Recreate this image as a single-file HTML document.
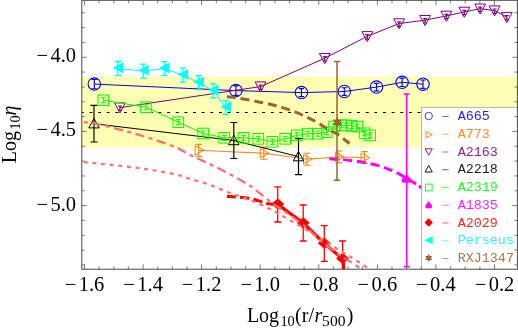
<!DOCTYPE html>
<html><head><meta charset="utf-8"><title>chart</title>
<style>html,body{margin:0;padding:0;background:#fff;}body{width:518px;height:331px;overflow:hidden;position:relative;font-family:"Liberation Sans",sans-serif;}</style>
</head><body>
<svg width="518" height="331" viewBox="0 0 518 331" style="position:absolute;left:0;top:0;will-change:transform">
<defs><clipPath id="c"><rect x="81.8" y="0" width="435.59999999999997" height="269.2"/></clipPath></defs>
<rect width="518" height="331" fill="#fff"/>
<g clip-path="url(#c)">
<rect x="81.8" y="76.7" width="435.59999999999997" height="70.89999999999999" fill="#ffffb3"/>
<line x1="81.8" y1="112.5" x2="517.4" y2="112.5" stroke="#000" stroke-width="1.1" stroke-dasharray="2.9 5.733" stroke-dashoffset="0.95"/>
<polyline points="94.3,84.1 235.9,90.6 301.4,92.6 344.3,91.5 376.5,87.1 402.1,82.3 423.0,84.2" stroke="#0000ff" stroke-width="1" fill="none"/>
<path d="M94.3 79.5V88.7M91.7 79.5H96.9M91.7 88.7H96.9" stroke="#0000ff" stroke-width="1.15" fill="none"/>
<circle cx="94.3" cy="84.1" r="6.2" stroke="#0000ff" stroke-width="1.1" fill="none"/>
<path d="M235.9 85.9V95.3M233.3 85.9H238.5M233.3 95.3H238.5" stroke="#0000ff" stroke-width="1.15" fill="none"/>
<circle cx="235.9" cy="90.6" r="6.2" stroke="#0000ff" stroke-width="1.1" fill="none"/>
<path d="M301.4 88.6V96.6M298.8 88.6H304.0M298.8 96.6H304.0" stroke="#0000ff" stroke-width="1.15" fill="none"/>
<circle cx="301.4" cy="92.6" r="6.2" stroke="#0000ff" stroke-width="1.1" fill="none"/>
<path d="M344.3 87.7V95.3M341.7 87.7H346.9M341.7 95.3H346.9" stroke="#0000ff" stroke-width="1.15" fill="none"/>
<circle cx="344.3" cy="91.5" r="6.2" stroke="#0000ff" stroke-width="1.1" fill="none"/>
<path d="M376.5 83.3V90.9M373.9 83.3H379.1M373.9 90.9H379.1" stroke="#0000ff" stroke-width="1.15" fill="none"/>
<circle cx="376.5" cy="87.1" r="6.2" stroke="#0000ff" stroke-width="1.1" fill="none"/>
<path d="M402.1 78.1V86.5M399.5 78.1H404.7M399.5 86.5H404.7" stroke="#0000ff" stroke-width="1.15" fill="none"/>
<circle cx="402.1" cy="82.3" r="6.2" stroke="#0000ff" stroke-width="1.1" fill="none"/>
<path d="M423.0 80.0V88.4M420.4 80.0H425.6M420.4 88.4H425.6" stroke="#0000ff" stroke-width="1.15" fill="none"/>
<circle cx="423.0" cy="84.2" r="6.2" stroke="#0000ff" stroke-width="1.1" fill="none"/>
<polyline points="198.7,150.3 263.8,153.2 307.0,159.2 339.0,156.9 364.6,157.6" stroke="#ff8000" stroke-width="1" fill="none"/>
<path d="M198.7 144.3V156.3M195.2 144.3H202.2M195.2 156.3H202.2" stroke="#ff8000" stroke-width="1" fill="none"/>
<path d="M195.1 145.7L204.0 150.3L195.1 154.9Z" stroke="#ff8000" stroke-width="1" fill="none"/>
<path d="M263.8 147.2V159.2M260.3 147.2H267.3M260.3 159.2H267.3" stroke="#ff8000" stroke-width="1" fill="none"/>
<path d="M260.2 148.6L269.1 153.2L260.2 157.8Z" stroke="#ff8000" stroke-width="1" fill="none"/>
<path d="M307.0 153.2V165.2M303.5 153.2H310.5M303.5 165.2H310.5" stroke="#ff8000" stroke-width="1" fill="none"/>
<path d="M303.4 154.6L312.3 159.2L303.4 163.8Z" stroke="#ff8000" stroke-width="1" fill="none"/>
<path d="M339.0 150.9V162.9M335.5 150.9H342.5M335.5 162.9H342.5" stroke="#ff8000" stroke-width="1" fill="none"/>
<path d="M335.4 152.3L344.3 156.9L335.4 161.5Z" stroke="#ff8000" stroke-width="1" fill="none"/>
<path d="M364.6 151.6V163.6M361.1 151.6H368.1M361.1 163.6H368.1" stroke="#ff8000" stroke-width="1" fill="none"/>
<path d="M361.0 153.0L369.9 157.6L361.0 162.2Z" stroke="#ff8000" stroke-width="1" fill="none"/>
<polyline points="119.9,107.6 260.5,86.6 324.8,58.2 367.3,36.3 399.1,23.5 425.1,20.2 446.4,15.9 464.3,11.9 480.2,8.7 494.6,10.6 506.8,17.1" stroke="#800080" stroke-width="1" fill="none"/>
<path d="M119.9 106.0V110.4M117.9 106.0H121.9M117.9 110.4H121.9" stroke="#800080" stroke-width="1.2" fill="none"/>
<path d="M114.5 102.9H125.4L119.9 113.0Z" stroke="#800080" stroke-width="1" fill="none"/>
<path d="M260.5 85.0V89.4M258.5 85.0H262.5M258.5 89.4H262.5" stroke="#800080" stroke-width="1.2" fill="none"/>
<path d="M255.1 81.9H265.9L260.5 92.0Z" stroke="#800080" stroke-width="1" fill="none"/>
<path d="M324.8 56.6V61.0M322.8 56.6H326.8M322.8 61.0H326.8" stroke="#800080" stroke-width="1.2" fill="none"/>
<path d="M319.4 53.5H330.2L324.8 63.6Z" stroke="#800080" stroke-width="1" fill="none"/>
<path d="M367.3 34.7V39.1M365.3 34.7H369.3M365.3 39.1H369.3" stroke="#800080" stroke-width="1.2" fill="none"/>
<path d="M361.9 31.6H372.8L367.3 41.7Z" stroke="#800080" stroke-width="1" fill="none"/>
<path d="M399.1 21.9V26.3M397.1 21.9H401.1M397.1 26.3H401.1" stroke="#800080" stroke-width="1.2" fill="none"/>
<path d="M393.7 18.8H404.6L399.1 28.9Z" stroke="#800080" stroke-width="1" fill="none"/>
<path d="M425.1 18.6V23.0M423.1 18.6H427.1M423.1 23.0H427.1" stroke="#800080" stroke-width="1.2" fill="none"/>
<path d="M419.7 15.5H430.6L425.1 25.6Z" stroke="#800080" stroke-width="1" fill="none"/>
<path d="M446.4 14.3V18.7M444.4 14.3H448.4M444.4 18.7H448.4" stroke="#800080" stroke-width="1.2" fill="none"/>
<path d="M440.9 11.2H451.8L446.4 21.3Z" stroke="#800080" stroke-width="1" fill="none"/>
<path d="M464.3 10.3V14.7M462.3 10.3H466.3M462.3 14.7H466.3" stroke="#800080" stroke-width="1.2" fill="none"/>
<path d="M458.9 7.2H469.8L464.3 17.3Z" stroke="#800080" stroke-width="1" fill="none"/>
<path d="M480.2 7.1V11.5M478.2 7.1H482.2M478.2 11.5H482.2" stroke="#800080" stroke-width="1.2" fill="none"/>
<path d="M474.8 4.0H485.6L480.2 14.1Z" stroke="#800080" stroke-width="1" fill="none"/>
<path d="M494.6 9.0V13.4M492.6 9.0H496.6M492.6 13.4H496.6" stroke="#800080" stroke-width="1.2" fill="none"/>
<path d="M489.2 5.9H500.1L494.6 16.0Z" stroke="#800080" stroke-width="1" fill="none"/>
<path d="M506.8 15.5V19.9M504.8 15.5H508.8M504.8 19.9H508.8" stroke="#800080" stroke-width="1.2" fill="none"/>
<path d="M501.4 12.4H512.2L506.8 22.5Z" stroke="#800080" stroke-width="1" fill="none"/>
<polyline points="94.0,123.7 233.8,140.5 298.5,156.6" stroke="#000" stroke-width="1" fill="none"/>
<path d="M94.0 105.4V142.0M90.5 105.4H97.5M90.5 142.0H97.5" stroke="#000" stroke-width="1.2" fill="none"/>
<path d="M94.0 118.5L99.2 127.9H88.8Z" stroke="#000" stroke-width="1" fill="none"/>
<path d="M233.8 122.5V158.5M230.3 122.5H237.3M230.3 158.5H237.3" stroke="#000" stroke-width="1.2" fill="none"/>
<path d="M233.8 135.3L239.0 144.7H228.6Z" stroke="#000" stroke-width="1" fill="none"/>
<path d="M298.5 138.6V174.6M295.0 138.6H302.0M295.0 174.6H302.0" stroke="#000" stroke-width="1.2" fill="none"/>
<path d="M298.5 151.4L303.7 160.8H293.3Z" stroke="#000" stroke-width="1" fill="none"/>
<polyline points="103.3,100.3 146.0,107.2 178.3,122.2 203.1,133.5 224.2,137.8 243.5,137.8 258.3,138.8 272.4,141.8 285.2,138.8 296.8,135.3 307.8,133.7 317.7,133.7 326.7,132.2 334.1,126.5 341.3,125.2 346.2,125.4 351.5,125.9 357.4,126.6 364.6,133.3 370.2,135.3" stroke="#00ff00" stroke-width="1" fill="none"/>
<path d="M103.3 97.8V102.8M100.8 97.8H105.8M100.8 102.8H105.8" stroke="#00ff00" stroke-width="1" fill="none"/>
<rect x="98.0" y="95.0" width="10.6" height="10.6" stroke="#00ff00" stroke-width="1" fill="none"/>
<path d="M146.0 104.7V109.7M143.5 104.7H148.5M143.5 109.7H148.5" stroke="#00ff00" stroke-width="1" fill="none"/>
<rect x="140.7" y="101.9" width="10.6" height="10.6" stroke="#00ff00" stroke-width="1" fill="none"/>
<path d="M178.3 119.7V124.7M175.8 119.7H180.8M175.8 124.7H180.8" stroke="#00ff00" stroke-width="1" fill="none"/>
<rect x="173.0" y="116.9" width="10.6" height="10.6" stroke="#00ff00" stroke-width="1" fill="none"/>
<path d="M203.1 131.0V136.0M200.6 131.0H205.6M200.6 136.0H205.6" stroke="#00ff00" stroke-width="1" fill="none"/>
<rect x="197.8" y="128.2" width="10.6" height="10.6" stroke="#00ff00" stroke-width="1" fill="none"/>
<path d="M224.2 135.3V140.3M221.7 135.3H226.7M221.7 140.3H226.7" stroke="#00ff00" stroke-width="1" fill="none"/>
<rect x="218.9" y="132.5" width="10.6" height="10.6" stroke="#00ff00" stroke-width="1" fill="none"/>
<path d="M243.5 135.3V140.3M241.0 135.3H246.0M241.0 140.3H246.0" stroke="#00ff00" stroke-width="1" fill="none"/>
<rect x="238.2" y="132.5" width="10.6" height="10.6" stroke="#00ff00" stroke-width="1" fill="none"/>
<path d="M258.3 136.3V141.3M255.8 136.3H260.8M255.8 141.3H260.8" stroke="#00ff00" stroke-width="1" fill="none"/>
<rect x="253.0" y="133.5" width="10.6" height="10.6" stroke="#00ff00" stroke-width="1" fill="none"/>
<path d="M272.4 139.3V144.3M269.9 139.3H274.9M269.9 144.3H274.9" stroke="#00ff00" stroke-width="1" fill="none"/>
<rect x="267.1" y="136.5" width="10.6" height="10.6" stroke="#00ff00" stroke-width="1" fill="none"/>
<path d="M285.2 136.3V141.3M282.7 136.3H287.7M282.7 141.3H287.7" stroke="#00ff00" stroke-width="1" fill="none"/>
<rect x="279.9" y="133.5" width="10.6" height="10.6" stroke="#00ff00" stroke-width="1" fill="none"/>
<path d="M296.8 132.8V137.8M294.3 132.8H299.3M294.3 137.8H299.3" stroke="#00ff00" stroke-width="1" fill="none"/>
<rect x="291.5" y="130.0" width="10.6" height="10.6" stroke="#00ff00" stroke-width="1" fill="none"/>
<path d="M307.8 131.2V136.2M305.3 131.2H310.3M305.3 136.2H310.3" stroke="#00ff00" stroke-width="1" fill="none"/>
<rect x="302.5" y="128.4" width="10.6" height="10.6" stroke="#00ff00" stroke-width="1" fill="none"/>
<path d="M317.7 131.2V136.2M315.2 131.2H320.2M315.2 136.2H320.2" stroke="#00ff00" stroke-width="1" fill="none"/>
<rect x="312.4" y="128.4" width="10.6" height="10.6" stroke="#00ff00" stroke-width="1" fill="none"/>
<path d="M326.7 129.7V134.7M324.2 129.7H329.2M324.2 134.7H329.2" stroke="#00ff00" stroke-width="1" fill="none"/>
<rect x="321.4" y="126.9" width="10.6" height="10.6" stroke="#00ff00" stroke-width="1" fill="none"/>
<path d="M334.1 124.0V129.0M331.6 124.0H336.6M331.6 129.0H336.6" stroke="#00ff00" stroke-width="1" fill="none"/>
<rect x="328.8" y="121.2" width="10.6" height="10.6" stroke="#00ff00" stroke-width="1" fill="none"/>
<path d="M341.3 122.7V127.7M338.8 122.7H343.8M338.8 127.7H343.8" stroke="#00ff00" stroke-width="1" fill="none"/>
<rect x="336.0" y="119.9" width="10.6" height="10.6" stroke="#00ff00" stroke-width="1" fill="none"/>
<path d="M346.2 122.9V127.9M343.7 122.9H348.7M343.7 127.9H348.7" stroke="#00ff00" stroke-width="1" fill="none"/>
<rect x="340.9" y="120.1" width="10.6" height="10.6" stroke="#00ff00" stroke-width="1" fill="none"/>
<path d="M351.5 123.4V128.4M349.0 123.4H354.0M349.0 128.4H354.0" stroke="#00ff00" stroke-width="1" fill="none"/>
<rect x="346.2" y="120.6" width="10.6" height="10.6" stroke="#00ff00" stroke-width="1" fill="none"/>
<path d="M357.4 124.1V129.1M354.9 124.1H359.9M354.9 129.1H359.9" stroke="#00ff00" stroke-width="1" fill="none"/>
<rect x="352.1" y="121.3" width="10.6" height="10.6" stroke="#00ff00" stroke-width="1" fill="none"/>
<path d="M364.6 130.8V135.8M362.1 130.8H367.1M362.1 135.8H367.1" stroke="#00ff00" stroke-width="1" fill="none"/>
<rect x="359.3" y="128.0" width="10.6" height="10.6" stroke="#00ff00" stroke-width="1" fill="none"/>
<path d="M370.2 132.8V137.8M367.7 132.8H372.7M367.7 137.8H372.7" stroke="#00ff00" stroke-width="1" fill="none"/>
<rect x="364.9" y="130.0" width="10.6" height="10.6" stroke="#00ff00" stroke-width="1" fill="none"/>
<path d="M329.3 158.8C330.8 158.9 334.7 158.9 338.5 159.2C342.3 159.5 347.5 160.1 352.1 160.7C356.7 161.3 361.3 161.9 366.0 162.8C370.7 163.7 375.7 164.8 380.1 166.1C384.6 167.4 389.2 169.4 392.7 170.9C396.2 172.4 398.7 173.7 401.0 175.0C403.3 176.3 405.7 177.9 406.6 178.5" stroke="#ff00ff" stroke-width="3" fill="none" stroke-dasharray="9.1 4.74"/>
<path d="M406.6 178.5C407.3 178.9 409.4 180.1 411.0 181.0C412.6 181.9 413.8 182.7 416.0 184.1C418.2 185.5 422.7 188.7 424.0 189.6" stroke="#ff00ff" stroke-width="3" fill="none" stroke-dasharray="11 3.6 9 4"/>
<path d="M406.7 94.0V266.7M403.7 94.0H409.7M403.7 266.7H409.7" stroke="#ff00ff" stroke-width="1.5" fill="none"/>
<path d="M0,-4.6C1.5,-2.2 5,-0.8 5,1.9C5,4 2.4,4.9 0.7,3L1.6,4.4H-1.6L-0.7,3C-2.4,4.9 -5,4 -5,1.9C-5,-0.8 -1.5,-2.2 0,-4.6Z" transform="translate(406.6,178.8)" fill="#ff00ff"/>
<path d="M226.8 196.4C228.3 196.5 232.3 196.6 236.0 196.9C239.7 197.2 245.3 197.7 249.0 198.3C252.7 198.9 255.1 199.8 258.0 200.6C260.9 201.4 263.9 202.8 266.2 203.4C268.5 204.0 270.1 204.0 272.0 204.2C273.9 204.4 276.8 204.5 277.7 204.6" stroke="#ff0000" stroke-width="3" fill="none" stroke-dasharray="9.1 4.3"/>
<path d="M342.6 258.8C342.7 259.5 343.0 261.0 343.2 263.0C343.4 265.0 343.7 269.7 343.8 271.0" stroke="#ff0000" stroke-width="3.4" fill="none"/>
<polyline points="277.7,204.4 303.2,223.0 324.3,243.5 342.6,258.8" stroke="#ff0000" stroke-width="3.2" fill="none"/>
<path d="M277.7 186.8V222.0M274.2 186.8H281.2M274.2 222.0H281.2" stroke="#ff0000" stroke-width="1.3" fill="none"/>
<path d="M271.1 204.1L277.7 198.6L284.3 204.1L277.7 209.6Z" fill="#ff0000"/>
<path d="M303.2 205.0V241.0M299.7 205.0H306.7M299.7 241.0H306.7" stroke="#ff0000" stroke-width="1.3" fill="none"/>
<path d="M296.6 222.7L303.2 217.2L309.8 222.7L303.2 228.2Z" fill="#ff0000"/>
<path d="M324.3 225.6V261.4M320.8 225.6H327.8M320.8 261.4H327.8" stroke="#ff0000" stroke-width="1.3" fill="none"/>
<path d="M317.7 243.2L324.3 237.7L330.9 243.2L324.3 248.7Z" fill="#ff0000"/>
<path d="M342.6 241.0V276.6M339.1 241.0H346.1M339.1 276.6H346.1" stroke="#ff0000" stroke-width="1.3" fill="none"/>
<path d="M336.0 258.5L342.6 253.0L349.2 258.5L342.6 264.0Z" fill="#ff0000"/>
<polyline points="117.8,68.5 143.3,71.1 164.2,68.7 182.9,75.2 198.5,82.7 213.3,90.8 225.7,107.5" stroke="#00ffff" stroke-width="1" fill="none"/>
<path d="M117.8 61.5V75.5M114.6 61.5H121.0M114.6 75.5H121.0" stroke="#00ffff" stroke-width="1.3" fill="none"/>
<path d="M112.5 67.7L123.1 62.2V73.2Z" fill="#00ffff"/>
<path d="M143.3 64.1V78.1M140.1 64.1H146.5M140.1 78.1H146.5" stroke="#00ffff" stroke-width="1.3" fill="none"/>
<path d="M138.0 70.3L148.6 64.8V75.8Z" fill="#00ffff"/>
<path d="M164.2 61.7V75.7M161.0 61.7H167.4M161.0 75.7H167.4" stroke="#00ffff" stroke-width="1.3" fill="none"/>
<path d="M158.9 67.9L169.5 62.4V73.4Z" fill="#00ffff"/>
<path d="M182.9 68.2V82.2M179.7 68.2H186.1M179.7 82.2H186.1" stroke="#00ffff" stroke-width="1.3" fill="none"/>
<path d="M177.6 74.4L188.2 68.9V79.9Z" fill="#00ffff"/>
<path d="M198.5 75.7V89.7M195.3 75.7H201.7M195.3 89.7H201.7" stroke="#00ffff" stroke-width="1.3" fill="none"/>
<path d="M193.2 81.9L203.8 76.4V87.4Z" fill="#00ffff"/>
<path d="M213.3 83.8V97.8M210.1 83.8H216.5M210.1 97.8H216.5" stroke="#00ffff" stroke-width="1.3" fill="none"/>
<path d="M208.0 90.0L218.6 84.5V95.5Z" fill="#00ffff"/>
<path d="M225.7 100.5V114.5M222.5 100.5H228.9M222.5 114.5H228.9" stroke="#00ffff" stroke-width="1.3" fill="none"/>
<path d="M220.4 106.7L231.0 101.2V112.2Z" fill="#00ffff"/>
<path d="M226.8 96.8C228.2 97.0 231.8 97.2 235.5 97.7C239.2 98.2 244.4 99.2 249.0 100.0C253.6 100.8 258.4 101.7 262.9 102.7C267.4 103.7 271.8 104.7 276.1 105.8C280.4 106.9 284.4 108.1 288.7 109.6C293.0 111.1 297.8 113.0 302.2 115.0C306.6 117.0 311.1 119.0 315.4 121.3C319.6 123.6 323.9 126.8 327.7 129.0C331.5 131.2 334.8 132.4 338.4 134.8C342.0 137.2 347.6 142.1 349.5 143.5" stroke="#996633" stroke-width="3" fill="none" stroke-dasharray="9 4.9"/>
<path d="M337.0 61.5V180.2M333.8 61.5H340.2M333.8 180.2H340.2" stroke="#996633" stroke-width="1.5" fill="none"/>
<polygon points="337.2,117.0 338.7,119.7 341.8,119.6 340.2,122.3 341.8,125.0 338.7,124.9 337.2,127.6 335.7,124.9 332.6,125.0 334.2,122.3 332.6,119.6 335.7,119.7" fill="#996633"/>
<path d="M80.0 121.4C80.7 121.5 80.7 121.5 83.9 122.0C87.1 122.5 93.5 123.3 99.3 124.5C105.1 125.7 112.2 127.6 118.7 129.3C125.2 131.0 131.6 132.7 138.0 134.6C144.4 136.5 151.0 138.4 157.4 140.6C163.8 142.8 171.4 145.4 176.7 147.7C182.0 150.0 184.0 151.8 189.3 154.5C194.6 157.2 202.2 160.5 208.7 163.6C215.1 166.7 221.6 169.9 228.0 173.3C234.4 176.7 242.7 181.3 247.4 184.1C252.1 186.9 253.2 188.2 256.0 190.3C258.8 192.4 261.8 194.8 264.0 196.6C266.2 198.4 267.6 199.6 269.4 201.0C271.1 202.4 272.4 203.5 274.5 204.9C276.6 206.3 279.1 207.7 282.0 209.7C284.9 211.7 288.5 214.2 292.0 216.7C295.5 219.2 299.5 221.8 303.2 224.8C306.9 227.8 310.5 231.3 314.0 234.5C317.5 237.7 320.3 240.5 324.3 243.8C328.3 247.1 334.1 251.5 338.2 254.3C342.2 257.1 344.8 258.2 348.6 260.6C352.4 263.0 358.1 267.0 360.8 268.8C363.5 270.6 364.3 271.1 365.0 271.6" stroke="#ff7070" stroke-width="2.25" fill="none" stroke-dasharray="9.4 4.4 4.1 4.36" stroke-dashoffset="9.94"/>
<path d="M80.0 161.9C80.7 161.9 80.7 161.9 83.9 162.2C87.1 162.5 93.5 163.0 99.3 163.6C105.1 164.2 112.2 165.0 118.7 165.7C125.2 166.4 131.6 167.1 138.0 168.0C144.4 168.9 151.0 169.8 157.4 170.9C163.8 172.0 171.4 173.3 176.7 174.6C182.0 175.9 184.0 177.0 189.3 178.7C194.6 180.3 202.2 182.2 208.7 184.5C215.1 186.8 221.6 189.8 228.0 192.2C234.4 194.6 242.6 197.2 247.4 199.0C252.2 200.8 253.6 201.4 257.0 202.9C260.4 204.4 264.8 206.5 267.8 208.0C270.9 209.5 272.8 210.5 275.3 211.8C277.8 213.2 280.4 214.7 282.9 216.1C285.4 217.5 288.1 219.1 290.4 220.4C292.7 221.7 294.7 222.8 296.8 224.0C298.9 225.2 300.5 226.1 303.2 227.8C305.9 229.5 309.5 231.8 313.0 234.0C316.5 236.2 320.7 238.7 324.3 240.9C327.9 243.1 331.6 245.4 334.7 247.3C337.8 249.2 340.3 251.0 342.8 252.5C345.3 254.0 347.4 255.1 349.8 256.5C352.2 257.9 355.0 259.7 357.3 261.2C359.6 262.7 361.5 263.9 363.7 265.3C365.9 266.8 368.9 268.8 370.6 269.9C372.3 271.0 373.4 271.6 374.0 272.0" stroke="#ff7070" stroke-width="2.25" fill="none" stroke-dasharray="3.9 4.745" stroke-dashoffset="4.735"/>
<rect x="421.5" y="107.4" width="120" height="180" fill="#fff" stroke="#b4b4b4" stroke-width="1"/>
</g>
<text x="457.7" y="120.2" font-family="Liberation Mono" font-size="13.4" fill="#0000ff" fill-opacity="0.88">A665</text>
<line x1="442.2" y1="116.5" x2="448.6" y2="116.5" stroke="#0000ff" stroke-width="1" opacity="0.6"/>
<text x="457.7" y="138.0" font-family="Liberation Mono" font-size="13.4" fill="#ff8000" fill-opacity="0.88">A773</text>
<line x1="442.2" y1="134.3" x2="448.6" y2="134.3" stroke="#ff8000" stroke-width="1" opacity="0.6"/>
<text x="457.7" y="155.7" font-family="Liberation Mono" font-size="13.4" fill="#800080" fill-opacity="0.88">A2163</text>
<line x1="442.2" y1="152.0" x2="448.6" y2="152.0" stroke="#800080" stroke-width="1" opacity="0.6"/>
<text x="457.7" y="173.4" font-family="Liberation Mono" font-size="13.4" fill="#000" fill-opacity="0.88">A2218</text>
<line x1="442.2" y1="169.7" x2="448.6" y2="169.7" stroke="#000" stroke-width="1" opacity="0.6"/>
<text x="457.7" y="191.2" font-family="Liberation Mono" font-size="13.4" fill="#00ff00" fill-opacity="0.88">A2319</text>
<line x1="442.2" y1="187.5" x2="448.6" y2="187.5" stroke="#00ff00" stroke-width="1" opacity="0.6"/>
<text x="457.7" y="208.9" font-family="Liberation Mono" font-size="13.4" fill="#ff00ff" fill-opacity="0.88">A1835</text>
<line x1="442.2" y1="205.2" x2="448.6" y2="205.2" stroke="#ff00ff" stroke-width="1" opacity="0.6"/>
<text x="457.7" y="226.7" font-family="Liberation Mono" font-size="13.4" fill="#ff0000" fill-opacity="0.88">A2029</text>
<line x1="442.2" y1="223.0" x2="448.6" y2="223.0" stroke="#ff0000" stroke-width="1" opacity="0.6"/>
<text x="457.7" y="244.4" font-family="Liberation Mono" font-size="13.4" fill="#00ffff" fill-opacity="0.88">Perseus</text>
<line x1="442.2" y1="240.7" x2="448.6" y2="240.7" stroke="#00ffff" stroke-width="1" opacity="0.6"/>
<text x="457.7" y="262.2" font-family="Liberation Mono" font-size="13.4" fill="#996633" fill-opacity="0.88">RXJ1347</text>
<line x1="442.2" y1="258.5" x2="448.6" y2="258.5" stroke="#996633" stroke-width="1" opacity="0.6"/>
<circle cx="428.7" cy="116" r="3.7" stroke="#0000ff" fill="none" stroke-width="0.75"/>
<path d="M426.0 131.60000000000002L432.4 134.70000000000002L426.0 137.8Z" stroke="#ff8000" fill="none" stroke-width="0.9"/>
<path d="M425.09999999999997 148.8H432.3L428.7 155.3Z" stroke="#800080" fill="none" stroke-width="0.9"/>
<path d="M428.7 165.5L432.3 172.0H425.09999999999997Z" stroke="#000" fill="none" stroke-width="0.9"/>
<rect x="425.4" y="184.1" width="6.7" height="6.7" stroke="#00ff00" fill="none" stroke-width="0.9"/>
<path d="M0,-4.6C1.5,-2.2 5,-0.8 5,1.9C5,4 2.4,4.9 0.7,3L1.6,4.4H-1.6L-0.7,3C-2.4,4.9 -5,4 -5,1.9C-5,-0.8 -1.5,-2.2 0,-4.6Z" transform="translate(428.7,204.89999999999998) scale(0.68,0.84)" fill="#ff00ff"/>
<path d="M424.5 222.5L428.7 218.3L432.9 222.5L428.7 226.7Z" fill="#ff0000"/>
<path d="M424.3 240.2L432.59999999999997 236.1V244.29999999999998Z" fill="#00ffff"/>
<polygon points="428.7,254.0 429.8,256.1 432.2,256.0 430.9,258.0 432.2,260.0 429.8,259.9 428.7,262.0 427.6,259.9 425.2,260.0 426.5,258.0 425.2,256.0 427.6,256.1" fill="#996633"/>
<rect x="81.8" y="0.3" width="435.59999999999997" height="268.9" fill="none" stroke="#484848" stroke-width="1"/>
<path d="M84.5 269.2v-4.9M84.5 0.3v4.9M99.1 269.2v-2.9M99.1 0.3v2.9M113.8 269.2v-2.9M113.8 0.3v2.9M128.4 269.2v-2.9M128.4 0.3v2.9M143.1 269.2v-4.9M143.1 0.3v4.9M157.7 269.2v-2.9M157.7 0.3v2.9M172.4 269.2v-2.9M172.4 0.3v2.9M187.0 269.2v-2.9M187.0 0.3v2.9M201.6 269.2v-4.9M201.6 0.3v4.9M216.3 269.2v-2.9M216.3 0.3v2.9M230.9 269.2v-2.9M230.9 0.3v2.9M245.6 269.2v-2.9M245.6 0.3v2.9M260.2 269.2v-4.9M260.2 0.3v4.9M274.9 269.2v-2.9M274.9 0.3v2.9M289.5 269.2v-2.9M289.5 0.3v2.9M304.1 269.2v-2.9M304.1 0.3v2.9M318.8 269.2v-4.9M318.8 0.3v4.9M333.4 269.2v-2.9M333.4 0.3v2.9M348.1 269.2v-2.9M348.1 0.3v2.9M362.7 269.2v-2.9M362.7 0.3v2.9M377.4 269.2v-4.9M377.4 0.3v4.9M392.0 269.2v-2.9M392.0 0.3v2.9M406.6 269.2v-2.9M406.6 0.3v2.9M421.3 269.2v-2.9M421.3 0.3v2.9M435.9 269.2v-4.9M435.9 0.3v4.9M450.6 269.2v-2.9M450.6 0.3v2.9M465.2 269.2v-2.9M465.2 0.3v2.9M479.9 269.2v-2.9M479.9 0.3v2.9M494.5 269.2v-4.9M494.5 0.3v4.9M81.8 12.8h3.0M517.4 12.8h-3.0M81.8 27.6h3.0M517.4 27.6h-3.0M81.8 42.5h3.0M517.4 42.5h-3.0M81.8 57.3h5.1M517.4 57.3h-5.1M81.8 72.1h3.0M517.4 72.1h-3.0M81.8 87.0h3.0M517.4 87.0h-3.0M81.8 101.8h3.0M517.4 101.8h-3.0M81.8 116.6h3.0M517.4 116.6h-3.0M81.8 131.4h5.1M517.4 131.4h-5.1M81.8 146.3h3.0M517.4 146.3h-3.0M81.8 161.1h3.0M517.4 161.1h-3.0M81.8 175.9h3.0M517.4 175.9h-3.0M81.8 190.8h3.0M517.4 190.8h-3.0M81.8 205.6h5.1M517.4 205.6h-5.1M81.8 220.4h3.0M517.4 220.4h-3.0M81.8 235.3h3.0M517.4 235.3h-3.0M81.8 250.1h3.0M517.4 250.1h-3.0M81.8 264.9h3.0M517.4 264.9h-3.0" stroke="#505050" stroke-width="0.75" fill="none"/>
<text x="84.5" y="290.5" font-family="Liberation Serif" font-size="20.5" text-anchor="middle" fill="#000">−<tspan dx="2.4">1.6</tspan></text>
<text x="143.1" y="290.5" font-family="Liberation Serif" font-size="20.5" text-anchor="middle" fill="#000">−<tspan dx="2.4">1.4</tspan></text>
<text x="201.6" y="290.5" font-family="Liberation Serif" font-size="20.5" text-anchor="middle" fill="#000">−<tspan dx="2.4">1.2</tspan></text>
<text x="260.2" y="290.5" font-family="Liberation Serif" font-size="20.5" text-anchor="middle" fill="#000">−<tspan dx="2.4">1.0</tspan></text>
<text x="318.8" y="290.5" font-family="Liberation Serif" font-size="20.5" text-anchor="middle" fill="#000">−<tspan dx="2.4">0.8</tspan></text>
<text x="377.4" y="290.5" font-family="Liberation Serif" font-size="20.5" text-anchor="middle" fill="#000">−<tspan dx="2.4">0.6</tspan></text>
<text x="435.9" y="290.5" font-family="Liberation Serif" font-size="20.5" text-anchor="middle" fill="#000">−<tspan dx="2.4">0.4</tspan></text>
<text x="494.5" y="290.5" font-family="Liberation Serif" font-size="20.5" text-anchor="middle" fill="#000">−<tspan dx="2.4">0.2</tspan></text>
<text x="76" y="62.3" font-family="Liberation Serif" font-size="20.5" text-anchor="end" fill="#000">−<tspan dx="2.4">4.0</tspan></text>
<text x="76" y="136.4" font-family="Liberation Serif" font-size="20.5" text-anchor="end" fill="#000">−<tspan dx="2.4">4.5</tspan></text>
<text x="76" y="210.6" font-family="Liberation Serif" font-size="20.5" text-anchor="end" fill="#000">−<tspan dx="2.4">5.0</tspan></text>
<g font-family="Liberation Serif" font-size="20" fill="#000"><text x="246.9" y="321.8">Log</text><text x="280.4" y="326.4" font-size="14.4">10</text><text x="295.1" y="321.8">(r/</text><text x="314.4" y="321.8" font-style="italic">r</text><text x="322.1" y="326.0" font-size="15.6">500</text><text x="346.7" y="321.8">)</text></g>
<g transform="translate(15.5,163.2) rotate(-90)" font-family="Liberation Serif" font-size="20" fill="#000"><text x="0" y="0">Log</text><text x="33.4" y="4.6" font-size="14.4">10</text><text x="47.6" y="0" font-style="italic">η</text></g>
</svg>
</body></html>
